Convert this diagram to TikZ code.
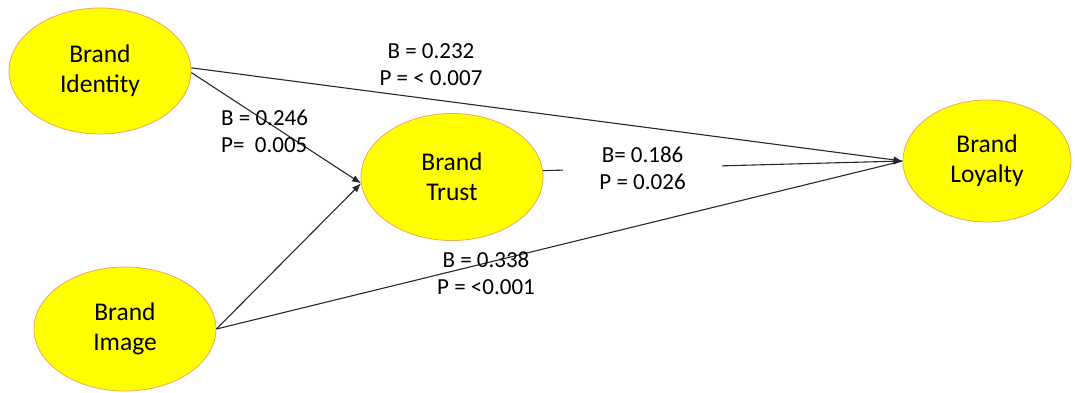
\documentclass[tikz,border=0pt]{standalone}
\usepackage{fontspec}
\setmainfont{Carlito}
\usetikzlibrary{shapes.geometric,arrows.meta}
\definecolor{construct}{RGB}{255,255,0}
\definecolor{rim}{RGB}{240,165,90}
\definecolor{pathline}{RGB}{40,40,40}
\begin{document}
\begin{tikzpicture}[x=1pt,y=-1pt,
  construct/.style={ellipse,draw=rim,line width=0.8pt,fill=construct,
    inner sep=0pt,align=center,font=\fontsize{25.5}{30}\selectfont},
  coef/.style={inner sep=0pt,font=\fontsize{23}{27}\selectfont},
  link/.style={draw=pathline,line width=1.1pt},
  arrowlink/.style={link,-{Latex[length=9pt,width=7pt]}}]
\useasboundingbox (0,0) rectangle (1075,392);
\fill[white] (0,0) rectangle (1075,392);

% constructs
\node[construct,minimum width=182,minimum height=126] (id) at (100,71) {Brand\\Identity};
\node[construct,minimum width=182,minimum height=127] (tr) at (452,177) {Brand\\Trust};
\node[construct,minimum width=168,minimum height=122] (lo) at (987,161) {Brand\\Loyalty};
\node[construct,minimum width=182,minimum height=124] (im) at (125,329) {Brand\\Image};

% structural paths
\draw[arrowlink] (id.2) -- (lo.west);
\draw[arrowlink] (id.-1) -- (tr.184);
\draw[arrowlink] (im.east) -- (tr.184);
\draw[link] (im.east) -- (lo.west);
\draw[arrowlink] (tr.4) -- (lo.west)
  node[pos=0.277,fill=white,minimum width=159,minimum height=50,inner sep=0pt,
       align=center,font=\fontsize{23}{27}\selectfont] (c3) {B= 0.186\\P = 0.026};

% path coefficients
\node[coef,align=center] (c1) at (431,65) {B = 0.232\\P = < 0.007};
\node[coef,align=left,anchor=west] (c2) at (221,131) {B = 0.246\\P=\ \ 0.005};
\node[coef,align=center] (c4) at (486,273) {B = 0.338\\P = <0.001};
\end{tikzpicture}
\end{document}
